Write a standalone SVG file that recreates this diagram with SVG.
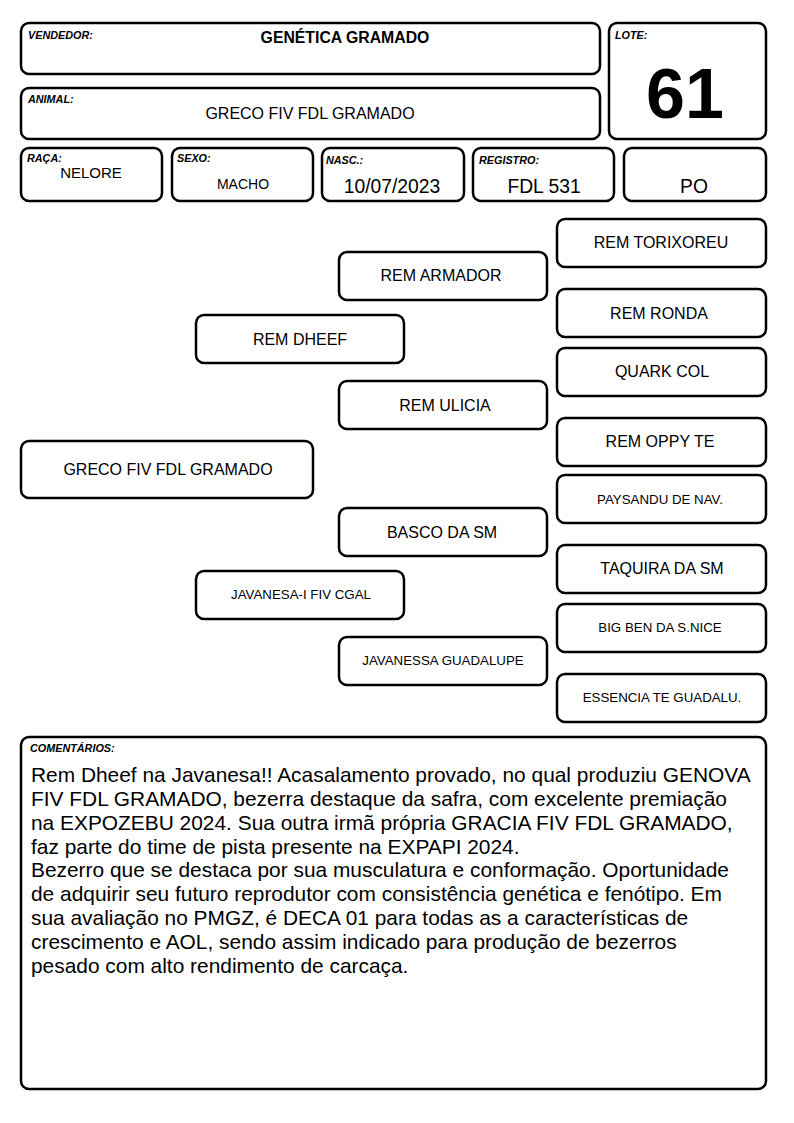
<svg xmlns="http://www.w3.org/2000/svg" width="794" height="1123" viewBox="0 0 794 1123">
<style>
.b{fill:#fff;stroke:#000;stroke-width:2.5}
.l{font-family:"Liberation Sans",Arial,sans-serif;font-size:10.8px;font-weight:bold;font-style:italic}
.t{font-family:"Liberation Sans",Arial,sans-serif;text-anchor:middle;fill:#000}
.m{font-size:16px}
.s{font-size:13.3px}
.c{font-family:"Liberation Sans",Arial,sans-serif;font-size:20.9px;fill:#000}
</style>
<rect width="794" height="1123" fill="#fff"/>
<g id="vendedor"><rect class="b" x="21" y="23" width="579" height="51" rx="8"/><text class="l" x="28" y="39">VENDEDOR:</text><text class="t" x="345" y="43" font-size="15.8" font-weight="bold">GENÉTICA GRAMADO</text></g>
<g id="animal"><rect class="b" x="21" y="88" width="579" height="51" rx="8"/><text class="l" x="28" y="103">ANIMAL:</text><text class="t" x="310" y="119" font-size="16">GRECO FIV FDL GRAMADO</text></g>
<g id="lote"><rect class="b" x="609" y="23" width="157" height="116" rx="8"/><text class="l" x="615" y="39">LOTE:</text><text class="t" x="685" y="118" font-size="70" font-weight="bold">61</text></g>
<g id="raca"><rect class="b" x="21" y="148" width="141" height="53" rx="8"/><text class="l" x="27" y="162">RAÇA:</text><text class="t" x="91" y="178" font-size="15">NELORE</text></g>
<g id="sexo"><rect class="b" x="172" y="148" width="141" height="53" rx="8"/><text class="l" x="177" y="162">SEXO:</text><text class="t" x="243" y="189" font-size="14">MACHO</text></g>
<g id="nasc"><rect class="b" x="322" y="148" width="142" height="53" rx="8"/><text class="l" x="326" y="164">NASC.:</text><text class="t" x="392" y="193" font-size="19.3">10/07/2023</text></g>
<g id="registro"><rect class="b" x="473" y="148" width="141" height="53" rx="8"/><text class="l" x="479" y="164">REGISTRO:</text><text class="t" x="544" y="193" font-size="19.3">FDL 531</text></g>
<g id="po"><rect class="b" x="624" y="148" width="142" height="53" rx="8"/><text class="t" x="694" y="193" font-size="19.3">PO</text></g>

<g id="greco"><rect class="b" x="21" y="441" width="292" height="57" rx="8"/><text class="t m" x="168" y="475">GRECO FIV FDL GRAMADO</text></g>
<g id="rem-dheef"><rect class="b" x="196" y="315" width="208" height="48" rx="8"/><text class="t m" x="300" y="345">REM DHEEF</text></g>
<g id="javanesa"><rect class="b" x="196" y="571" width="208" height="48" rx="8"/><text class="t s" x="301" y="599">JAVANESA-I FIV CGAL</text></g>
<g id="rem-armador"><rect class="b" x="339" y="252" width="208" height="48" rx="8"/><text class="t m" x="441" y="281">REM ARMADOR</text></g>
<g id="rem-ulicia"><rect class="b" x="339" y="381" width="208" height="48" rx="8"/><text class="t m" x="445" y="411">REM ULICIA</text></g>
<g id="basco"><rect class="b" x="339" y="508" width="208" height="48" rx="8"/><text class="t m" x="442" y="538">BASCO DA SM</text></g>
<g id="javanessa"><rect class="b" x="339" y="637" width="208" height="48" rx="8"/><text class="t s" x="443" y="665">JAVANESSA GUADALUPE</text></g>
<g id="torixoreu"><rect class="b" x="557" y="219" width="209" height="48" rx="8"/><text class="t m" x="661" y="248">REM TORIXOREU</text></g>
<g id="ronda"><rect class="b" x="557" y="289" width="209" height="48" rx="8"/><text class="t m" x="659" y="319">REM RONDA</text></g>
<g id="quark"><rect class="b" x="557" y="348" width="209" height="48" rx="8"/><text class="t m" x="662" y="377">QUARK COL</text></g>
<g id="oppy"><rect class="b" x="557" y="418" width="209" height="48" rx="8"/><text class="t m" x="660" y="447">REM OPPY TE</text></g>
<g id="paysandu"><rect class="b" x="557" y="475" width="209" height="48" rx="8"/><text class="t s" x="660" y="504">PAYSANDU DE NAV.</text></g>
<g id="taquira"><rect class="b" x="557" y="545" width="209" height="48" rx="8"/><text class="t m" x="662" y="574">TAQUIRA DA SM</text></g>
<g id="bigben"><rect class="b" x="557" y="604" width="209" height="48" rx="8"/><text class="t s" x="660" y="632">BIG BEN DA S.NICE</text></g>
<g id="essencia"><rect class="b" x="557" y="674" width="209" height="48" rx="8"/><text class="t s" x="662" y="702">ESSENCIA TE GUADALU.</text></g>

<g id="connectors"></g>

<g id="comentarios"><rect class="b" x="21" y="737" width="745" height="352" rx="8"/><text class="l" x="30" y="752" font-size="11.3">COMENTÁRIOS:</text>
<text class="c" x="31" y="782">Rem Dheef na Javanesa!! Acasalamento provado, no qual produziu GENOVA</text>
<text class="c" x="31" y="806">FIV FDL GRAMADO, bezerra destaque da safra, com excelente premiação</text>
<text class="c" x="31" y="830">na EXPOZEBU 2024. Sua outra irmã própria GRACIA FIV FDL GRAMADO,</text>
<text class="c" x="31" y="854">faz parte do time de pista presente na EXPAPI 2024.</text>
<text class="c" x="31" y="877">Bezerro que se destaca por sua musculatura e conformação. Oportunidade</text>
<text class="c" x="31" y="901">de adquirir seu futuro reprodutor com consistência genética e fenótipo. Em</text>
<text class="c" x="31" y="925">sua avaliação no PMGZ, é DECA 01 para todas as a características de</text>
<text class="c" x="31" y="949">crescimento e AOL, sendo assim indicado para produção de bezerros</text>
<text class="c" x="31" y="973">pesado com alto rendimento de carcaça.</text>
</g>
</svg>
